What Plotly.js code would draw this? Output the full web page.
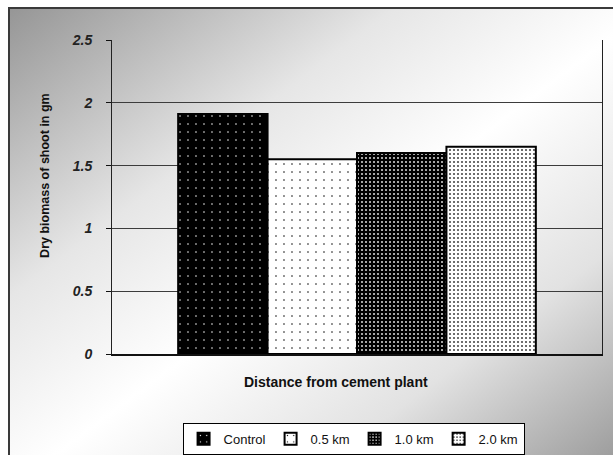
<!DOCTYPE html>
<html>
<head>
<meta charset="utf-8">
<script src="https://cdn.plot.ly/plotly-3.0.1.min.js"></script>
<style>
  html, body { margin: 0; padding: 0; background: #ffffff; overflow: hidden; }
  #frame {
    position: absolute; left: 8px; top: 7px; width: 640px; height: 480px;
    border: 2px solid #3a3a3a;
    background: linear-gradient(to bottom right, #969696 0%, #e6e6e6 30%, #ffffff 50%, #e2e2e2 72%, #8a8a8a 100%);
  }
  #chart { position: absolute; left: 0; top: 0; width: 613px; height: 455px; }
</style>
</head>
<body>
<div id="frame"></div>
<div id="chart"></div>
<script>
// Dry shoot biomass (g) by distance from the cement plant
const category = [''];
const seriesNames = ['Control', '0.5 km', '1.0 km', '2.0 km'];
const control = [1.91];
const km05 = [1.55];
const km10 = [1.60];
const km20 = [1.65];
const yTicks = [0, 0.5, 1, 1.5, 2, 2.5];
const yTickText = ['0', '0.5', '1', '1.5', '2', '2.5'];

const FONT = 'Liberation Sans, Arial, sans-serif';

// fill patterns for the four bars
const patterns = [
  { shape: '.', bgcolor: '#000000', fgcolor: '#ffffff', size: 8, solidity: 0.03, fillmode: 'replace' },
  { shape: '.', bgcolor: '#ffffff', fgcolor: '#000000', size: 8, solidity: 0.03, fillmode: 'replace' },
  { shape: '.', bgcolor: '#000000', fgcolor: '#d0d0d0', size: 4, solidity: 0.22, fillmode: 'replace' },
  { shape: '.', bgcolor: '#ffffff', fgcolor: '#4a4a4a', size: 4, solidity: 0.22, fillmode: 'replace' }
];
const seriesValues = [control, km05, km10, km20];

const traces = seriesNames.map((name, i) => ({
  type: 'bar',
  name: name,
  x: category,
  y: seriesValues[i],
  marker: {
    color: patterns[i].bgcolor,
    pattern: patterns[i],
    line: { color: '#000000', width: 2 }
  },
  hoverinfo: 'skip'
}));

const layout = {
  width: 613,
  height: 455,
  margin: { l: 112, r: 11, t: 40, b: 101, autoexpand: false },
  paper_bgcolor: 'rgba(0,0,0,0)',
  plot_bgcolor: 'rgba(0,0,0,0)',
  barmode: 'group',
  bargap: 0.27,
  bargroupgap: 0,
  showlegend: true,
  font: { family: FONT, color: '#111111' },
  xaxis: {
    type: 'category',
    showticklabels: false,
    ticks: '',
    showgrid: false,
    showline: true,
    linecolor: '#111111',
    linewidth: 1.5,
    zeroline: false,
    fixedrange: true
  },
  yaxis: {
    range: [0, 2.5],
    tickvals: yTicks,
    ticktext: yTickText,
    ticks: 'outside',
    ticklen: 5,
    tickwidth: 1,
    tickcolor: '#111111',
    ticklabelstandoff: 11,
    tickfont: { family: FONT, size: 14, weight: 'bold', style: 'italic', color: '#222222' },
    showgrid: true,
    gridcolor: '#3c3c3c',
    gridwidth: 1,
    showline: true,
    mirror: true,
    linecolor: '#222222',
    linewidth: 1,
    zeroline: false,
    fixedrange: true
  },
  legend: {
    orientation: 'h',
    x: 0.493,
    xanchor: 'center',
    y: -0.219,
    yanchor: 'top',
    bgcolor: '#ffffff',
    bordercolor: '#000000',
    borderwidth: 1,
    font: { family: FONT, size: 13, color: '#111111' },
    itemwidth: 30,
    traceorder: 'normal'
  },
  annotations: [
    {
      text: 'Dry biomass of shoot in gm',
      xref: 'paper', yref: 'paper',
      x: -0.137, y: 0.57,
      xanchor: 'center', yanchor: 'middle',
      textangle: -90,
      showarrow: false,
      font: { family: FONT, size: 12.5, weight: 'bold', color: '#111111' }
    },
    {
      text: 'Distance from cement plant',
      xref: 'paper', yref: 'paper',
      x: 0.457, y: -0.089,
      xanchor: 'center', yanchor: 'middle',
      showarrow: false,
      font: { family: FONT, size: 14, weight: 'bold', color: '#111111' }
    }
  ]
};

Plotly.newPlot('chart', traces, layout, { displayModeBar: false, staticPlot: true });
</script>
</body>
</html>
